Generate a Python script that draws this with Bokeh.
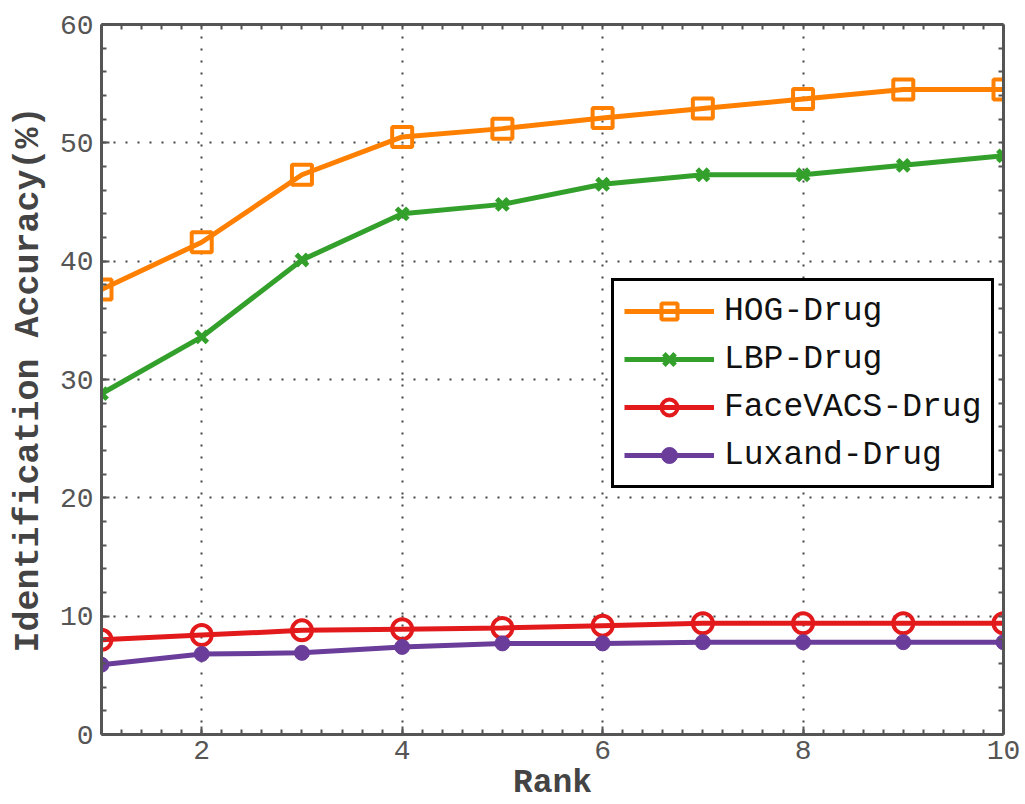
import numpy as np
from bokeh.plotting import figure
from bokeh.models import (LinearAxis, SingleIntervalTicker, FixedTicker, Range1d, Legend, LegendItem)
from bokeh.embed import file_html
from bokeh.resources import INLINE

ranks = [1, 2, 3, 4, 5, 6, 7, 8, 9, 10]
hog_drug = [37.6, 41.6, 47.3, 50.5, 51.2, 52.1, 52.9, 53.7, 54.5, 54.5]
lbp_drug = [28.8, 33.6, 40.1, 44.0, 44.8, 46.5, 47.3, 47.3, 48.1, 48.9]
facevacs_drug = [8.0, 8.4, 8.8, 8.9, 9.0, 9.2, 9.4, 9.4, 9.4, 9.4]
luxand_drug = [5.9, 6.8, 6.9, 7.4, 7.7, 7.7, 7.8, 7.8, 7.8, 7.8]
series_names = ["HOG-Drug", "LBP-Drug", "FaceVACS-Drug", "Luxand-Drug"]

FONT = "Liberation Mono"
AX = "#555555"

p = figure(width=1025, height=804, output_backend="svg", toolbar_location=None,
           x_range=Range1d(1, 10), y_range=Range1d(0, 60),
           min_border_left=101, min_border_right=22, min_border_top=24, min_border_bottom=70,
           x_axis_label="Rank", y_axis_label="Identification Accuracy(%)")
p.outline_line_color = None
p.background_fill_color = "white"
p.border_fill_color = "white"

xt = SingleIntervalTicker(interval=2, num_minor_ticks=10)
yt = SingleIntervalTicker(interval=10, num_minor_ticks=5)
p.xaxis.ticker = xt
p.yaxis.ticker = yt
p.xgrid.ticker = xt
p.ygrid.ticker = yt

def style_axis(ax):
    ax.axis_line_color = AX
    ax.axis_line_width = 3
    ax.major_tick_line_color = AX
    ax.minor_tick_line_color = AX
    ax.major_tick_line_width = 2
    ax.minor_tick_line_width = 2
    ax.major_tick_in = 8
    ax.major_tick_out = 0
    ax.minor_tick_in = 5
    ax.minor_tick_out = 0
    ax.major_label_text_font = FONT
    ax.major_label_text_font_size = "28px"
    ax.major_label_text_color = AX
    ax.axis_label_text_font = FONT
    ax.axis_label_text_font_style = "bold"
    ax.axis_label_text_font_size = "33px"
    ax.axis_label_text_color = "#444444"

style_axis(p.xaxis[0])
style_axis(p.yaxis[0])
p.yaxis.axis_label_text_font_size = "35px"
p.xaxis.major_label_standoff = 6
p.yaxis.major_label_standoff = 8
p.xaxis.axis_label_standoff = 3
p.yaxis.axis_label_standoff = 8

# box axes (top / right): tick marks only, no labels
top_ticks = FixedTicker(ticks=[], minor_ticks=list(np.round(np.arange(1, 10.001, 0.2), 2)))
right_ticks = FixedTicker(ticks=[], minor_ticks=list(np.arange(0, 60.001, 2.0)))
top = LinearAxis(ticker=top_ticks)
right = LinearAxis(ticker=right_ticks)
for ax in (top, right):
    style_axis(ax)
    ax.major_label_standoff = 0
p.add_layout(top, "above")
p.add_layout(right, "right")

for g in (p.xgrid[0], p.ygrid[0]):
    g.grid_line_color = "#444444"
    g.grid_line_width = 2
    g.grid_line_dash = "2 10"

colors = ["#FF8000", "#33A02C", "#E31A1C", "#6A3D9A"]
data = [hog_drug, lbp_drug, facevacs_drug, luxand_drug]
items = []
for name, vals, c, i in zip(series_names, data, colors, range(4)):
    l = p.line(ranks, vals, line_color=c, line_width=5)
    if i == 0:
        s = p.scatter(ranks, vals, marker="square", size=20, fill_color=None,
                      line_color=c, line_width=4)
    elif i == 1:
        s = p.scatter(ranks, vals, marker="x", size=16, line_color=c, line_width=5)
    elif i == 2:
        s = p.scatter(ranks, vals, marker="circle", size=20, fill_color=None,
                      line_color=c, line_width=4)
    else:
        s = p.scatter(ranks, vals, marker="circle", size=15, fill_color=c,
                      line_color=c, line_width=1)
    items.append(LegendItem(label=name, renderers=[l, s]))

legend = Legend(items=items, location=(510, 246), border_line_color="black",
                border_line_width=3, border_line_alpha=1.0,
                background_fill_color="white", background_fill_alpha=1,
                label_text_font=FONT, label_text_font_size="33px", label_text_color="#111111",
                glyph_width=90, glyph_height=40, label_height=40, spacing=8,
                padding=10, margin=0, label_standoff=10)
p.add_layout(legend, "center")

open("out.html", "w").write(file_html(p, INLINE))
